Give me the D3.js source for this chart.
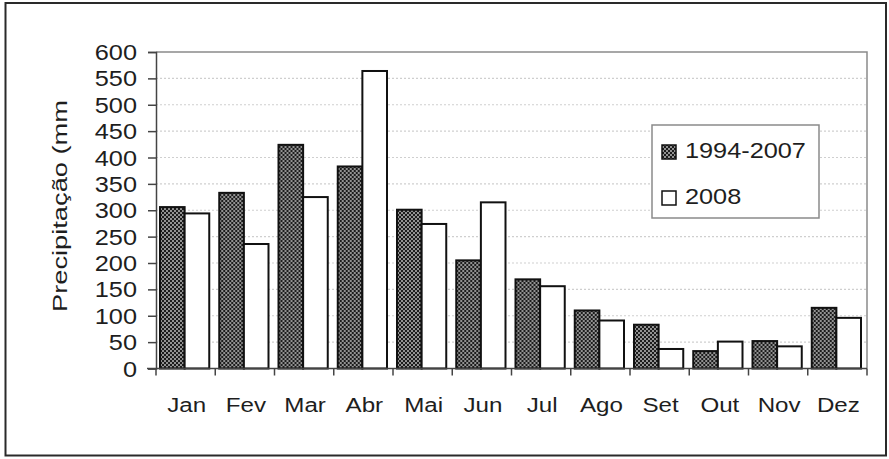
<!DOCTYPE html>
<html>
<head>
<meta charset="utf-8">
<script src="https://cdn.jsdelivr.net/npm/d3@7"></script>
<style>
  html, body { margin: 0; padding: 0; background: #fff; }
  svg { display: block; }
  text { font-family: "Liberation Sans", Arial, sans-serif; fill: #1e1e1e; }
</style>
</head>
<body>
<svg id="chart" width="889" height="459"></svg>
<script>
const months = ["Jan","Fev","Mar","Abr","Mai","Jun","Jul","Ago","Set","Out","Nov","Dez"];
const series = ["1994-2007", "2008"];
const avg9407 = [306, 333, 424, 383, 301, 205, 169, 110, 83, 33, 52, 115];
const rain2008 = [294, 236, 325, 564, 274, 315, 156, 91, 37, 51, 42, 96];
const yTicks = [0, 50, 100, 150, 200, 250, 300, 350, 400, 450, 500, 550, 600];
const yTitle = "Precipitação (mm";

const svg = d3.select("#chart");
const W = 889, H = 459;
const m = { left: 156, right: 867, top: 52, bottom: 368.5 };
const SX = 1.15; // horizontal stretch of the original lettering

// outer frame
svg.append("rect").attr("x", 5.5).attr("y", 3).attr("width", 880.5).attr("height", 452.5)
  .attr("fill", "#fff").attr("stroke", "#2a2a2a").attr("stroke-width", 2);

// pattern
const defs = svg.append("defs");
const pat = defs.append("pattern").attr("id", "dots").attr("patternUnits", "userSpaceOnUse")
  .attr("width", 4).attr("height", 4);
pat.append("rect").attr("width", 4).attr("height", 4).attr("fill", "#1c1c1c");
pat.append("circle").attr("cx", 1).attr("cy", 1).attr("r", 0.95).attr("fill", "#c4c4c4");
pat.append("circle").attr("cx", 3).attr("cy", 3).attr("r", 0.95).attr("fill", "#c4c4c4");

const x = d3.scaleBand().domain(months).range([m.left, m.right]).padding(0);
const x1 = d3.scaleBand().domain(series).range([4, x.bandwidth() - 6]).padding(0);
const y = d3.scaleLinear().domain([0, 600]).range([m.bottom, m.top]);

// gridlines
svg.append("g").selectAll("line").data(yTicks.filter(t => t > 0 && t < 600)).join("line")
  .attr("x1", m.left).attr("x2", m.right)
  .attr("y1", d => y(d)).attr("y2", d => y(d))
  .attr("stroke", "#cfcfcf").attr("stroke-width", 1.2).attr("stroke-dasharray", "2,2");

// plot border top/right
svg.append("path")
  .attr("d", `M${m.left},${y(600)}H${m.right}V${m.bottom}`)
  .attr("fill", "none").attr("stroke", "#8a8a8a").attr("stroke-width", 1.5);

// bars
const data = months.map((mo, i) => ({ mo, vals: [
  { s: series[0], v: avg9407[i] }, { s: series[1], v: rain2008[i] } ] }));
const g = svg.append("g");
g.selectAll("g").data(data).join("g")
  .attr("transform", d => `translate(${x(d.mo)},0)`)
  .selectAll("rect").data(d => d.vals).join("rect")
  .attr("x", d => x1(d.s)).attr("width", x1.bandwidth())
  .attr("y", d => y(d.v)).attr("height", d => y(0) - y(d.v))
  .attr("fill", d => d.s === series[0] ? "url(#dots)" : "#fff")
  .attr("stroke", "#111").attr("stroke-width", 2);

// y axis
const yAxis = d3.axisLeft(y).tickValues(yTicks).tickSize(8).tickFormat("");
const ya = svg.append("g").attr("transform", `translate(${m.left},0)`).call(yAxis);
ya.select(".domain").attr("stroke", "#444").attr("stroke-width", 1.5);
ya.selectAll(".tick line").attr("stroke", "#444").attr("stroke-width", 1.5);
svg.append("g").selectAll("text").data(yTicks).join("text")
  .attr("transform", d => `translate(137,${y(d) + 8}) scale(${SX},1)`)
  .attr("text-anchor", "end").attr("font-size", 22).text(d => d);

// x axis
const xa = svg.append("g").attr("transform", `translate(0,${m.bottom})`)
  .call(d3.axisBottom(x).tickSize(0).tickFormat(""));
xa.select(".domain").remove();
xa.selectAll(".tick").remove();
svg.append("line").attr("x1", 147).attr("x2", m.right).attr("y1", m.bottom).attr("y2", m.bottom)
  .attr("stroke", "#444").attr("stroke-width", 1.5);
const bounds = months.map(mo => x(mo)).concat([m.right]);
svg.append("g").selectAll("line").data(bounds).join("line")
  .attr("x1", d => d).attr("x2", d => d).attr("y1", m.bottom).attr("y2", m.bottom + 7)
  .attr("stroke", "#444").attr("stroke-width", 1.5);
svg.append("g").selectAll("text").data(months).join("text")
  .attr("transform", d => `translate(${x(d) + x.bandwidth() / 2 + 1},411.5) scale(${SX},1)`)
  .attr("text-anchor", "middle").attr("font-size", 21).text(d => d);

// y title
svg.append("text")
  .attr("transform", "translate(67,206) rotate(-90)")
  .attr("text-anchor", "middle").attr("font-size", 21)
  .attr("textLength", 212).attr("lengthAdjust", "spacingAndGlyphs")
  .text(yTitle);

// legend
const lg = svg.append("g");
lg.append("rect").attr("x", 652).attr("y", 125).attr("width", 167).attr("height", 93)
  .attr("fill", "#fff").attr("stroke", "#8a8a8a").attr("stroke-width", 1.5);
const items = lg.selectAll("g.item").data(series).join("g").attr("class", "item")
  .attr("transform", (d, i) => `translate(0,${i * 46})`);
items.append("rect").attr("x", 662).attr("y", 145).attr("width", 14).attr("height", 14)
  .attr("fill", (d, i) => i === 0 ? "url(#dots)" : "#fff")
  .attr("stroke", "#111").attr("stroke-width", 1.5);
items.append("text")
  .attr("transform", `translate(685,157.5) scale(${SX},1)`)
  .attr("font-size", 22).text(d => d);
</script>
</body>
</html>
